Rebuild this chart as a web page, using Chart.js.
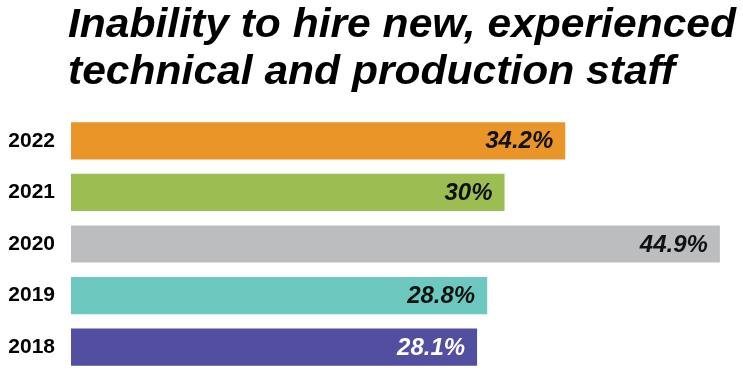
<!DOCTYPE html>
<html>
<head>
<meta charset="utf-8">
<script src="https://cdn.jsdelivr.net/npm/chart.js@4/dist/chart.umd.min.js"></script>
<style>
  html, body { margin: 0; padding: 0; background: #fff; }
  #wrap { width: 743px; height: 373px; position: relative; }
</style>
</head>
<body>
<div id="wrap"><canvas id="hireChart"></canvas></div>
<script>
const titleLines = ['Inability to hire new, experienced', 'technical and production staff'];
const years = ['2022', '2021', '2020', '2019', '2018'];
const shares = [34.2, 30, 44.9, 28.8, 28.1];
const barColors = ['#ea9527', '#9bbd52', '#bcbdbf', '#6dc9bf', '#524ea0'];
const valueColors = ['#111', '#111', '#111', '#111', '#fff'];

// title drawn by hand so it can be squeezed a bit like the condensed original
const titleDraw = {
    id: 'titleDraw',
    afterDraw(chart) {
        const { ctx } = chart;
        ctx.save();
        ctx.font = 'italic bold 40px "Liberation Sans", Arial, sans-serif';
        ctx.fillStyle = '#000';
        ctx.textAlign = 'left';
        ctx.textBaseline = 'alphabetic';
        const w = ctx.measureText(titleLines[0]).width;
        const sx = 668 / w;
        ctx.translate(68, 0);
        ctx.scale(sx, 1);
        ctx.fillText(titleLines[0], 0, 37);
        ctx.fillText(titleLines[1], 0, 84);
        ctx.restore();
    }
};

// value text at the end of each bar
const valueLabels = {
    id: 'valueLabels',
    afterDatasetsDraw(chart) {
        const { ctx, data } = chart;
        ctx.save();
        ctx.font = 'italic bold 24px "Liberation Sans", Arial, sans-serif';
        ctx.textAlign = 'right';
        ctx.textBaseline = 'middle';
        chart.getDatasetMeta(0).data.forEach((bar, i) => {
            ctx.fillStyle = valueColors[i];
            ctx.fillText(data.datasets[0].data[i] + '%', bar.x - 12, bar.y + 1);
        });
        ctx.restore();
    }
};

new Chart('hireChart', {
    type: 'bar',
    data: {
        labels: years,
        datasets: [{
            data: shares,
            backgroundColor: barColors,
            borderWidth: 0,
            barPercentage: 0.72,
            categoryPercentage: 1
        }]
    },
    options: {
        indexAxis: 'y',
        animation: { duration: 0 },
        responsive: true,
        maintainAspectRatio: false,
        layout: { padding: { top: 115, right: 0, bottom: 0, left: 0 } },
        plugins: {
            legend: { display: false },
            tooltip: { enabled: false }
        },
        scales: {
            x: {
                display: false,
                min: 0,
                max: 46.5
            },
            y: {
                grid: { display: false, drawTicks: false },
                border: { display: false },
                ticks: {
                    padding: 16,
                    color: '#000',
                    font: { family: '"Liberation Sans", Arial, sans-serif', size: 21, weight: 'bold' }
                },
                afterFit(scale) {
                    scale.width = 71;
                    scale.paddingTop = 0;
                    scale.paddingBottom = 0;
                }
            }
        }
    },
    plugins: [titleDraw, valueLabels]
});
</script>
</body>
</html>
